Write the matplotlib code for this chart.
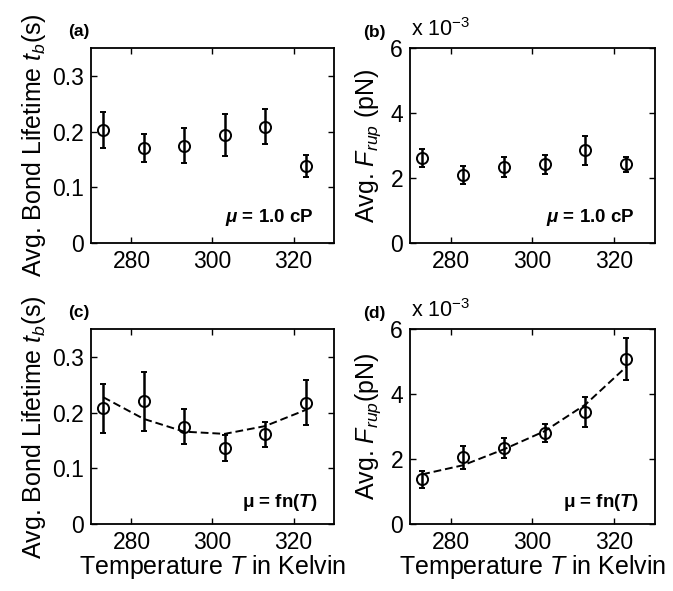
import numpy as np
import matplotlib
matplotlib.use("Agg")
import matplotlib.pyplot as plt
from matplotlib.ticker import FuncFormatter

plt.rcParams['font.family'] = ['Liberation Sans', 'DejaVu Sans']
plt.rcParams['mathtext.fontset'] = 'custom'
plt.rcParams['mathtext.rm'] = 'Liberation Sans'
plt.rcParams['mathtext.it'] = 'Liberation Sans:italic'
plt.rcParams['mathtext.bf'] = 'Liberation Sans:bold'
plt.rcParams['mathtext.bfit'] = 'Liberation Sans:bold:italic'

# temperatures (K)
temps = [273, 283, 293, 303, 313, 323]

# (a) bond lifetime, mu = 1.0 cP
tb_a = [0.203, 0.171, 0.175, 0.194, 0.209, 0.138]
tb_a_err = [0.032, 0.025, 0.032, 0.038, 0.031, 0.020]

# (b) rupture force, mu = 1.0 cP
fr_b = [2.62e-3, 2.10e-3, 2.34e-3, 2.42e-3, 2.85e-3, 2.42e-3]
fr_b_err = [0.27e-3, 0.27e-3, 0.30e-3, 0.29e-3, 0.44e-3, 0.22e-3]

# (c) bond lifetime, mu = fn(T)
tb_c = [0.208, 0.221, 0.175, 0.137, 0.161, 0.218]
tb_c_err = [0.044, 0.053, 0.032, 0.023, 0.022, 0.040]
tb_c_fit = [0.228, 0.189, 0.166, 0.162, 0.176, 0.205]

# (d) rupture force, mu = fn(T)
fr_d = [1.38e-3, 2.05e-3, 2.35e-3, 2.81e-3, 3.46e-3, 5.08e-3]
fr_d_err = [0.26e-3, 0.36e-3, 0.31e-3, 0.27e-3, 0.46e-3, 0.65e-3]
fr_d_fit = [1.53e-3, 1.81e-3, 2.30e-3, 2.86e-3, 3.68e-3, 4.84e-3]

fig = plt.figure(figsize=(6.73, 5.91), dpi=100)

boxes = {
    'a': [0.1352, 0.5883, 0.3611, 0.3310],
    'b': [0.6092, 0.5883, 0.3636, 0.3310],
    'c': [0.1352, 0.1134, 0.3611, 0.3294],
    'd': [0.6092, 0.1134, 0.3636, 0.3294],
}

tick_fs = 16.5
lab_fs = 18
ann_fs = 13.5
tag_fs = 12.5


def style(ax):
    ax.set_xlim(270, 330)
    ax.set_xticks([280, 300, 320])
    ax.tick_params(direction='in', top=True, right=True, length=4, width=1,
                   labelsize=tick_fs, pad=5)
    for s in ax.spines.values():
        s.set_linewidth(1.3)


def draw(ax, y, err, fit=None):
    if fit is not None:
        ax.plot(temps, fit, color='black', ls='--', lw=1.4, dashes=(4, 2))
    ax.errorbar(temps, y, yerr=err, fmt='o', mfc='none', mec='black',
                ecolor='black', ms=8, mew=1.4, elinewidth=1.8, capsize=2.5,
                capthick=1.4)


fmt_g = FuncFormatter(lambda v, p: ('%g' % round(v, 3)))
fmt_m = FuncFormatter(lambda v, p: ('%g' % round(v * 1e3, 3)))

mu_cp = r'$\boldsymbol{\mu}$' + ' = 1.0 cP'
mu_fn = r'$\mathbf{\mu}$ = fn($\boldsymbol{T}$)'

# (a)
ax = fig.add_axes(boxes['a'])
style(ax)
draw(ax, tb_a, tb_a_err)
ax.set_ylim(0, 0.35)
ax.set_yticks([0, 0.1, 0.2, 0.3])
ax.yaxis.set_major_formatter(fmt_g)
ax.set_ylabel('Avg. Bond Lifetime $t_b$(s)', fontsize=lab_fs, labelpad=3)
ax.text(0.915, 0.13, mu_cp, transform=ax.transAxes,
        ha='right', va='center', fontsize=ann_fs, fontweight='bold')
ax.text(-0.05, 1.085, '(a)', transform=ax.transAxes, ha='center', va='center',
        fontsize=tag_fs, fontweight='bold')

# (b)
ax = fig.add_axes(boxes['b'])
style(ax)
draw(ax, fr_b, fr_b_err)
ax.set_ylim(0, 6e-3)
ax.set_yticks([0, 2e-3, 4e-3, 6e-3])
ax.yaxis.set_major_formatter(fmt_m)
ax.set_ylabel('Avg. $F_{rup}$ (pN)', fontsize=lab_fs, labelpad=5)
ax.text(0.92, 0.13, mu_cp, transform=ax.transAxes,
        ha='right', va='center', fontsize=ann_fs, fontweight='bold')
ax.text(0.005, 1.035, r'x 10$^{-3}$', transform=ax.transAxes, ha='left', va='bottom',
        fontsize=15.5)
ax.text(-0.147, 1.08, '(b)', transform=ax.transAxes, ha='center', va='center',
        fontsize=tag_fs, fontweight='bold')

# (c)
ax = fig.add_axes(boxes['c'])
style(ax)
draw(ax, tb_c, tb_c_err, tb_c_fit)
ax.set_ylim(0, 0.35)
ax.set_yticks([0, 0.1, 0.2, 0.3])
ax.yaxis.set_major_formatter(fmt_g)
ax.set_ylabel('Avg. Bond Lifetime $t_b$(s)', fontsize=lab_fs, labelpad=3)
ax.set_xlabel('Temperature $T$ in Kelvin', fontsize=lab_fs, labelpad=-1)
ax.text(0.934, 0.11, mu_fn, transform=ax.transAxes,
        ha='right', va='center', fontsize=ann_fs, fontweight='bold')
ax.text(-0.05, 1.085, '(c)', transform=ax.transAxes, ha='center', va='center',
        fontsize=tag_fs, fontweight='bold')

# (d)
ax = fig.add_axes(boxes['d'])
style(ax)
draw(ax, fr_d, fr_d_err, fr_d_fit)
ax.set_ylim(0, 6e-3)
ax.set_yticks([0, 2e-3, 4e-3, 6e-3])
ax.yaxis.set_major_formatter(fmt_m)
ax.set_ylabel('Avg. $F_{rup}$(pN)', fontsize=lab_fs, labelpad=5)
ax.set_xlabel('Temperature $T$ in Kelvin', fontsize=lab_fs, labelpad=-1)
ax.text(0.934, 0.11, mu_fn, transform=ax.transAxes,
        ha='right', va='center', fontsize=ann_fs, fontweight='bold')
ax.text(0.005, 1.035, r'x 10$^{-3}$', transform=ax.transAxes, ha='left', va='bottom',
        fontsize=15.5)
ax.text(-0.147, 1.08, '(d)', transform=ax.transAxes, ha='center', va='center',
        fontsize=tag_fs, fontweight='bold')

fig.savefig('out.png', dpi=100)
